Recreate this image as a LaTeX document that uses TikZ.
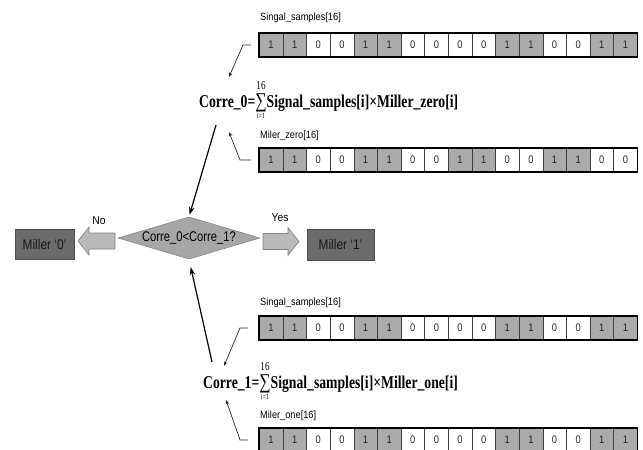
\documentclass[tikz,border=0pt]{standalone}
\usepackage{fontspec}
\setmainfont{Liberation Sans}
\newfontfamily\formfont{Liberation Serif}
\usetikzlibrary{arrows.meta,shapes.geometric}

% narrow text, as in the scanned figure
\newcommand{\nar}[2][0.8]{\scalebox{#1}[1]{#2}}
% big sum with limits above and below
\newcommand{\bigsum}{\mathop{\hbox{\fontsize{21}{21}\selectfont\mdseries ∑}}\limits
  _{\hbox{\fontsize{8}{8}\selectfont\mdseries\raisebox{-1.5pt}{i=1}}}
  ^{\hbox{\fontsize{12}{12}\selectfont\mdseries\raisebox{1.5pt}{16}}}}

% one register of 16 bits: name, x, y (top), bits
\newcommand{\bitrow}[4]{%
  \foreach \b [count=\k] in {#4}
    \node[bitcell,bit\b] (#1-\k) at ({#2+(\k-1)*23.625},#3) {\nar[0.85]{\b}};
  \draw[rowframe] (#1-1.north west) rectangle (#1-16.south east);
}

\begin{document}
\begin{tikzpicture}[x=1pt,y=-1pt,
  bitcell/.style={draw=black!75,thin,minimum width=23.625pt,minimum height=23.5pt,
    inner sep=0pt,anchor=north west,text=black!85,font=\fontsize{11}{11}\selectfont},
  bit1/.style={fill=black!33},
  bit0/.style={fill=white},
  rowframe/.style={draw=black,line width=1.3pt},
  regname/.style={anchor=west,inner sep=0pt,font=\fontsize{10.5}{11}\selectfont},
  formula/.style={anchor=base west,inner sep=0pt,font=\fontsize{18}{18}\formfont\bfseries},
  pointer/.style={draw=black!85,line width=0.7pt,-{Stealth[length=4.5pt,width=3.5pt]}},
  bigarrow/.style={draw=black,line width=1.2pt,-{Stealth[length=8pt,width=5.5pt]}},
  decision/.style={diamond,aspect=3.16,draw=black!55,fill=black!35,minimum width=142pt,
    inner sep=0pt,font=\fontsize{14}{14}\selectfont},
  fatarrow/.style={draw=black!50,fill=black!27,line width=0.6pt},
  result/.style={draw=black!70,fill=black!58,inner sep=0pt,text=black!90,font=\fontsize{14}{14}\selectfont},
  answer/.style={inner sep=0pt,font=\fontsize{11.5}{12}\selectfont}]

  \useasboundingbox (0,0) rectangle (643,450);

  % registers
  \node[regname] (sig0name) at (260,18) {\nar[0.88]{Singal\_samples[16]}};
  \bitrow{sig0}{259}{33}{1,1,0,0,1,1,0,0,0,0,1,1,0,0,1,1}
  \node[regname] (zeroname) at (260,136) {\nar[0.88]{Miler\_zero[16]}};
  \bitrow{zero}{259}{148}{1,1,0,0,1,1,0,0,1,1,0,0,1,1,0,0}
  \node[regname] (sig1name) at (260,303) {\nar[0.88]{Singal\_samples[16]}};
  \bitrow{sig1}{259}{316}{1,1,0,0,1,1,0,0,0,0,1,1,0,0,1,1}
  \node[regname] (onename) at (260,416) {\nar[0.88]{Miler\_one[16]}};
  \bitrow{one}{259}{428}{1,1,0,0,1,1,0,0,0,0,1,1,0,0,1,1}

  % correlations
  \node[formula] (f0) at (199,107) {\nar[0.76]{Corre\_0=$\bigsum$Signal\_samples[i]×Miller\_zero[i]}};
  \node[formula] (f1) at (203,388) {\nar[0.76]{Corre\_1=$\bigsum$Signal\_samples[i]×Miller\_one[i]}};
  \coordinate (f0a) at (229,77);
  \coordinate (f0b) at (229,132);
  \coordinate (f0out) at (216,125);
  \coordinate (f1a) at (224,366);
  \coordinate (f1b) at (226,400);
  \coordinate (f1out) at (212,362);

  % decision
  \node[decision] (dec) at (189,238) {\nar[0.8]{Corre\_0<Corre\_1?}};
  \node[result,minimum width=59pt,minimum height=30pt] (m0) at (44.5,244) {\nar[0.85]{Miller ‘0’}};
  \node[result,minimum width=67pt,minimum height=31pt] (m1) at (340.5,244.5) {\nar[0.85]{Miller ‘1’}};
  \node[answer] (no) at (99,221) {\nar[0.9]{No}};
  \node[answer] (yes) at (280,218) {\nar[0.9]{Yes}};

  % fat arrows
  \draw[fatarrow] (78,241) -- (89,227) -- (89,233) -- (115,233) -- (115,249)
    -- (89,249) -- (89,255) -- cycle;
  \draw[fatarrow] (299,241.5) -- (288,227.5) -- (288,233.5) -- (263,233.5) -- (263,249.5)
    -- (288,249.5) -- (288,255.5) -- cycle;

  % connections
  \draw[pointer] ([xshift=-8pt]sig0-1.west) -- ++(-8,0) -- (f0a);
  \draw[pointer] ([xshift=-8pt]zero-1.west) -- ++(-11,0) -- (f0b);
  \draw[pointer] ([xshift=-11pt]sig1-1.west) -- ++(-8,0) -- (f1a);
  \draw[pointer] ([xshift=-11pt]one-1.west) -- ++(-8,0) -- (f1b);
  \draw[bigarrow,shorten >=2pt] (f0out) -- (dec.north);
  \draw[bigarrow,shorten >=8pt] (f1out) -- (dec.south);
\end{tikzpicture}
\end{document}
